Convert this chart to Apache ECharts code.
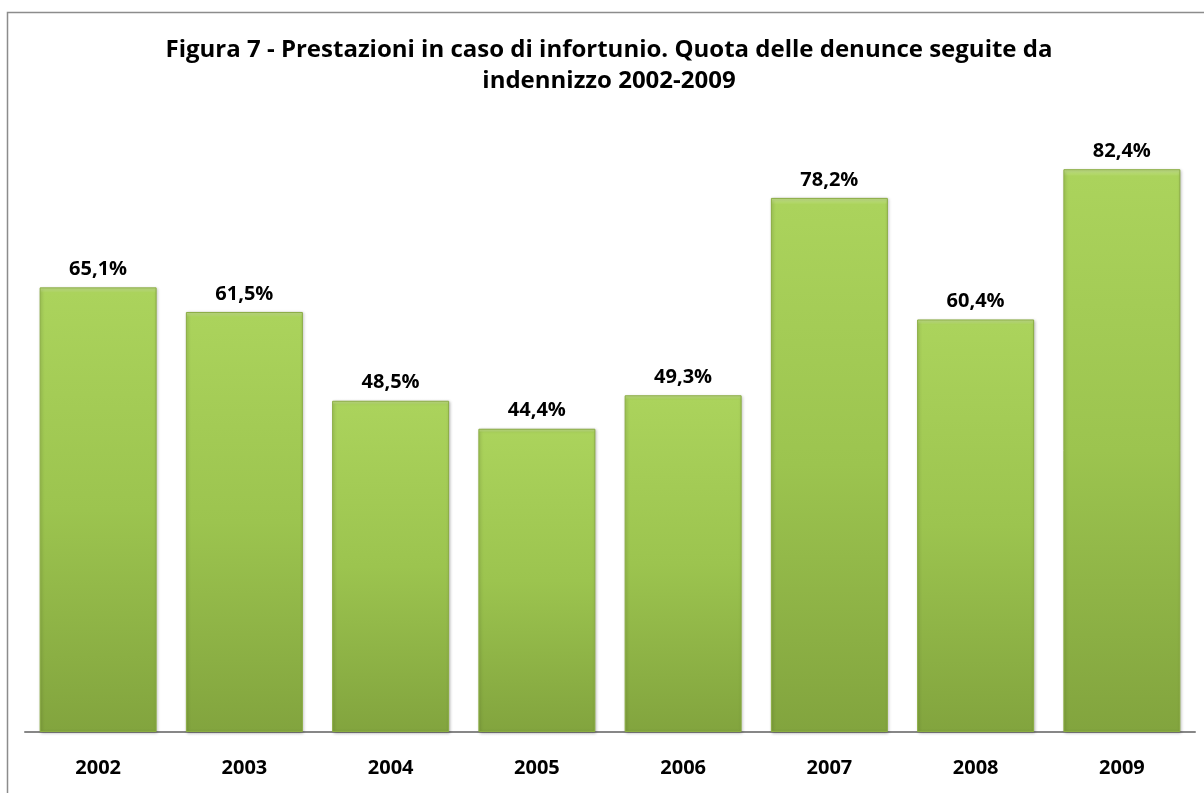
<!DOCTYPE html>
<html>
<head>
<meta charset="utf-8">
<script src="https://cdn.jsdelivr.net/npm/echarts@6/dist/echarts.min.js"></script>
<style>
  html, body { margin: 0; padding: 0; background: #fff; }
  #chart { width: 1204px; height: 793px; }
</style>
</head>
<body>
<div id="chart"></div>
<script>
var anni = ['2002', '2003', '2004', '2005', '2006', '2007', '2008', '2009'];
var quote = [65.1, 61.5, 48.5, 44.4, 49.3, 78.2, 60.4, 82.4];
var titolo = 'Figura 7 - Prestazioni in caso di infortunio. Quota delle denunce seguite da\nindennizzo 2002-2009';

var myChart = echarts.init(document.getElementById('chart'));
var font = '"Open Sans", sans-serif';

var option = {
  backgroundColor: '#fff',
  animation: false,
  title: {
    text: titolo,
    left: 604,
    top: 30,
    textAlign: 'center',
    textStyle: {
      fontFamily: font,
      fontWeight: 'bold',
      fontSize: 24,
      lineHeight: 31,
      color: '#000'
    }
  },
  graphic: [{
    type: 'rect',
    shape: { x: 7.5, y: 12.5, width: 1300, height: 900 },
    style: { fill: 'none', stroke: '#8c8c8c', lineWidth: 1.5 },
    silent: true
  }],
  grid: { left: 25, right: 9, top: 49, bottom: 61 },
  xAxis: {
    type: 'category',
    data: anni,
    axisLine: { lineStyle: { color: '#878787', width: 2 } },
    axisTick: { show: false },
    axisLabel: {
      margin: 26,
      fontFamily: font,
      fontWeight: 'bold',
      fontSize: 20,
      color: '#000'
    }
  },
  yAxis: {
    type: 'value',
    min: 0,
    max: 100,
    show: false,
    splitLine: { show: false }
  },
  series: [{
    type: 'bar',
    data: quote,
    barCategoryGap: '20%',
    itemStyle: {
      color: new echarts.graphic.LinearGradient(0, 0, 0, 1, [
        { offset: 0, color: '#c8e590' },
        { offset: 0.012, color: '#abd35c' },
        { offset: 0.5, color: '#9cc44f' },
        { offset: 1, color: '#82a43e' }
      ]),
      borderColor: '#8aac42',
      borderWidth: 1,
      shadowColor: 'rgba(0,0,0,0.25)',
      shadowBlur: 3,
      shadowOffsetX: 1,
      shadowOffsetY: 1
    },
    label: {
      show: true,
      position: 'top',
      distance: 8,
      fontFamily: font,
      fontWeight: 'bold',
      fontSize: 20,
      color: '#000',
      formatter: function (p) {
        return p.value.toFixed(1).replace('.', ',') + '%';
      }
    }
  }]
};

myChart.setOption(option);
</script>
</body>
</html>
